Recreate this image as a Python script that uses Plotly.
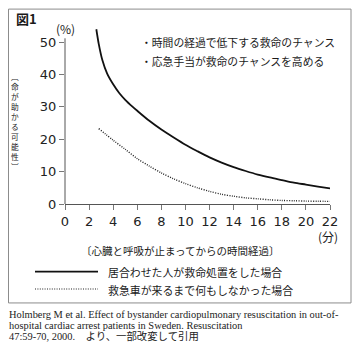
import plotly.graph_objects as go

# ---- data ----
minutes_cpr = [2.6, 2.8, 3.1, 3.5, 4, 4.5, 5, 5.6, 6, 7, 8, 9, 10, 11, 12, 13, 14, 15, 16, 17, 18, 19, 20, 21, 22]
survival_cpr = [54, 49.5, 44.5, 40.3, 37, 34.3, 32.2, 30.1, 28.8, 25.7, 23.0, 20.6, 18.3, 16.3, 14.4,
                12.8, 11.4, 10.2, 9.1, 8.2, 7.4, 6.6, 6.0, 5.4, 4.8]
minutes_none = [2.8, 4, 5, 6, 7, 8, 9, 10, 11, 12, 13, 14, 15, 16, 17, 18, 19, 20, 21, 22]
survival_none = [23.3, 19.7, 16.9, 14.0, 11.7, 9.6, 7.8, 6.3, 5.0, 3.9, 3.0, 2.4, 1.9, 1.6,
                 1.3, 1.1, 1.0, 0.9, 0.85, 0.8]
x_ticks = [0, 2, 4, 6, 8, 10, 12, 14, 16, 18, 20, 22]
y_ticks = [0, 10, 20, 30, 40, 50]
name_cpr = "居合わせた人が救命処置をした場合"
name_none = "救急車が来るまで何もしなかった場合"
notes = ["・時間の経過で低下する救命のチャンス", "・応急手当が救命のチャンスを高める"]
y_title_chars = ["︹", "命", "が", "助", "か", "る", "可", "能", "性", "︺"]
x_title = "〔心臓と呼吸が止まってからの時間経過〕"
citation = [
    "Holmberg M et al. Effect of bystander cardiopulmonary resuscitation in out-of-",
    "hospital cardiac arrest patients in Sweden. Resuscitation",
    "47:59-70, 2000.　より、一部改変して引用",
]

OFF = 8  # page body margin
W, H = 363 - 2 * OFF, 360 - 2 * OFF
# plot area in page pixels: x 65..330, y 25.5..204.5
L = 65 - OFF
R = W - (330 - OFF)
T = 25.5 - OFF
B = H - (204.5 - OFF)
PW, PH = W - L - R, H - T - B

def px(xp):  # page pixel x -> paper
    return (xp - OFF - L) / PW

def py(yp):  # page pixel y -> paper
    return (H - B - (yp - OFF)) / PH

JP = "Noto Sans CJK JP"
NUM = "DejaVu Sans"

fig = go.Figure()
fig.add_trace(go.Scatter(x=minutes_cpr, y=survival_cpr, mode="lines", name=name_cpr,
                         line=dict(color="#111", width=1.8, shape="spline", smoothing=0.8)))
fig.add_trace(go.Scatter(x=minutes_none, y=survival_none, mode="lines", name=name_none,
                         line=dict(color="#222", width=1.4, dash="1px,1.4px", shape="spline", smoothing=0.8)))

shapes = []
# outer frame
shapes.append(dict(type="rect", xref="paper", yref="paper", x0=px(8.5), x1=px(351), y0=py(8.5), y1=py(304),
                   line=dict(color="#8c8c8c", width=1), layer="above"))
# y axis line (stops just above the top tick)
shapes.append(dict(type="line", xref="paper", yref="y", x0=0, x1=0, y0=0, y1=51.2,
                   line=dict(color="#555", width=1)))
# legend keys
shapes.append(dict(type="line", xref="paper", yref="paper", x0=px(35), x1=px(98), y0=py(272.5), y1=py(272.5),
                   line=dict(color="#111", width=1.8)))
shapes.append(dict(type="line", xref="paper", yref="paper", x0=px(35), x1=px(98), y0=py(290), y1=py(290),
                   line=dict(color="#222", width=1.2, dash="1px,1.4px")))

ann = []
def text(x, y, s, size=11, anchor="left", family=JP, color="#1a1a1a", yanchor="middle"):
    ann.append(dict(x=px(x), y=py(y), xref="paper", yref="paper", text=s, showarrow=False,
                    xanchor=anchor, yanchor=yanchor, font=dict(family=family, size=size, color=color)))

text(14, 18, "<b>図1</b>", size=13)
text(65, 28, "(%)", size=12, anchor="center")
text(139, 42, notes[0], size=10.8)
text(139, 61, notes[1], size=10.8)
text(328, 237, "(分)", size=12, anchor="center")
text(180, 251, x_title, size=10.5, anchor="center")
text(106, 272.5, name_cpr, size=10.9)
text(106, 290.5, name_none, size=10.9)
text(15, 122, "<br>".join(y_title_chars), size=7.7, anchor="center")
for i, line in enumerate(citation):
    text(7, 316 + i * 10.6, line, size=10.4, family="Liberation Serif, " + JP, color="#222")

fig.update_layout(
    width=W, height=H, margin=dict(l=L, r=R, t=T, b=B),
    paper_bgcolor="white", plot_bgcolor="white", showlegend=False,
    shapes=shapes, annotations=ann,
    xaxis=dict(range=[0, 22], tickvals=x_ticks, ticks="outside", ticklen=5, tickcolor="#777",
               showline=True, linecolor="#555", linewidth=1, showgrid=False, zeroline=False,
               tickfont=dict(family=NUM, size=13, color="#222"), fixedrange=True),
    yaxis=dict(range=[0, 55], tickvals=y_ticks, ticks="outside", ticklen=5, tickcolor="#777",
               showline=False, showgrid=False, zeroline=False,
               tickfont=dict(family=NUM, size=13, color="#222"), fixedrange=True),
)
fig.write_html("out.html")
